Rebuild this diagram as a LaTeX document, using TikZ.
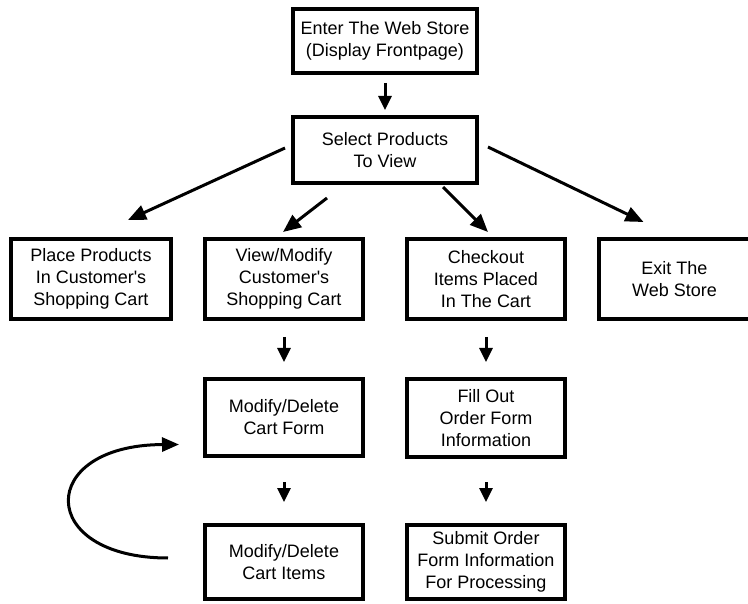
\documentclass[tikz,border=0pt]{standalone}
\usepackage{fontspec}
\setmainfont{Liberation Sans}
\usetikzlibrary{arrows.meta,positioning,calc}
\tikzset{
    caixa/.style={
        rectangle,
        draw,
        line width=4pt,
        align=center,
        minimum width=158pt,
        minimum height=80pt,
        inner sep=2pt
    },
    caixaTopo/.style={caixa, minimum width=184pt, minimum height=64pt},
    fluxo/.style={-{Triangle[length=14pt,width=13pt]}, line width=3pt},
    fluxoDiagonal/.style={-{Triangle[length=18pt,width=15pt]}, line width=3pt},
    retorno/.style={-{Triangle[length=17pt,width=14pt]}, line width=3pt}
}

\begin{document}
\begin{tikzpicture}[x=1pt, y=-1pt, font=\fontsize{18}{22}\selectfont]
        \useasboundingbox (0,0) rectangle (748,604);

        \node[caixaTopo] (entrada) at (385,41)
            {Enter The Web Store\\(Display Frontpage)};
        \node[caixaTopo, minimum height=66pt, below=40pt of entrada] (selecao)
            {Select Products\\To View};

        \node[caixa, minimum width=160pt] (colocar) at (91,279)
            {Place Products\\In Customer\textquotesingle s\\Shopping Cart};
        \node[caixa] (visualizar) at (284,279)
            {View/Modify\\Customer\textquotesingle s\\Shopping Cart};
        \node[caixa] (finalizar) at (486,279)
            {Checkout\\Items Placed\\In The Cart};
        \node[caixa, minimum width=151pt] (sair) at (674.5,279)
            {Exit The\\Web Store};

        \node[caixa, minimum height=77pt, below=56pt of visualizar] (formCarrinho)
            {Modify/Delete\\Cart Form};
        \node[caixa, minimum height=74pt, below=65pt of formCarrinho] (itensCarrinho)
            {Modify/Delete\\Cart Items};
        \node[caixa, minimum height=78pt, below=56pt of finalizar] (preencher)
            {Fill Out\\Order Form\\Information};
        \node[caixa, minimum height=74pt, below=64pt of preencher] (enviar)
            {Submit Order\\Form Information\\For Processing};

        \draw[fluxo, shorten <=8pt, shorten >=5pt] (entrada) -- (selecao);

        \draw[fluxoDiagonal] ($(selecao.west)+(-6,-2)$) -- ($(colocar.north)+(37,-17)$);
        \draw[fluxoDiagonal] ($(selecao.south)+(-58,13)$) -- ($(visualizar.north)+(-1,-5)$);
        \draw[fluxoDiagonal] ($(selecao.south)+(58,2)$) -- ($(finalizar.north)+(2,-5)$);
        \draw[fluxoDiagonal] ($(selecao.east)+(9,-3)$) -- ($(sair.north)+(-31,-15)$);

        \draw[fluxo, shorten <=16pt, shorten >=15pt] (visualizar) -- (formCarrinho);
        \draw[fluxo, shorten <=24pt, shorten >=21pt] (formCarrinho) -- (itensCarrinho);
        \draw[fluxo, shorten <=16pt, shorten >=15pt] (finalizar) -- (preencher);
        \draw[fluxo, shorten <=23pt, shorten >=21pt] (preencher) -- (enviar);

        \draw[retorno] ($(itensCarrinho.west)+(-35,-4)$)
            .. controls (36,558) and (36,445) .. ($(formCarrinho.west)+(-24,27)$);
    \end{tikzpicture}
\end{document}
